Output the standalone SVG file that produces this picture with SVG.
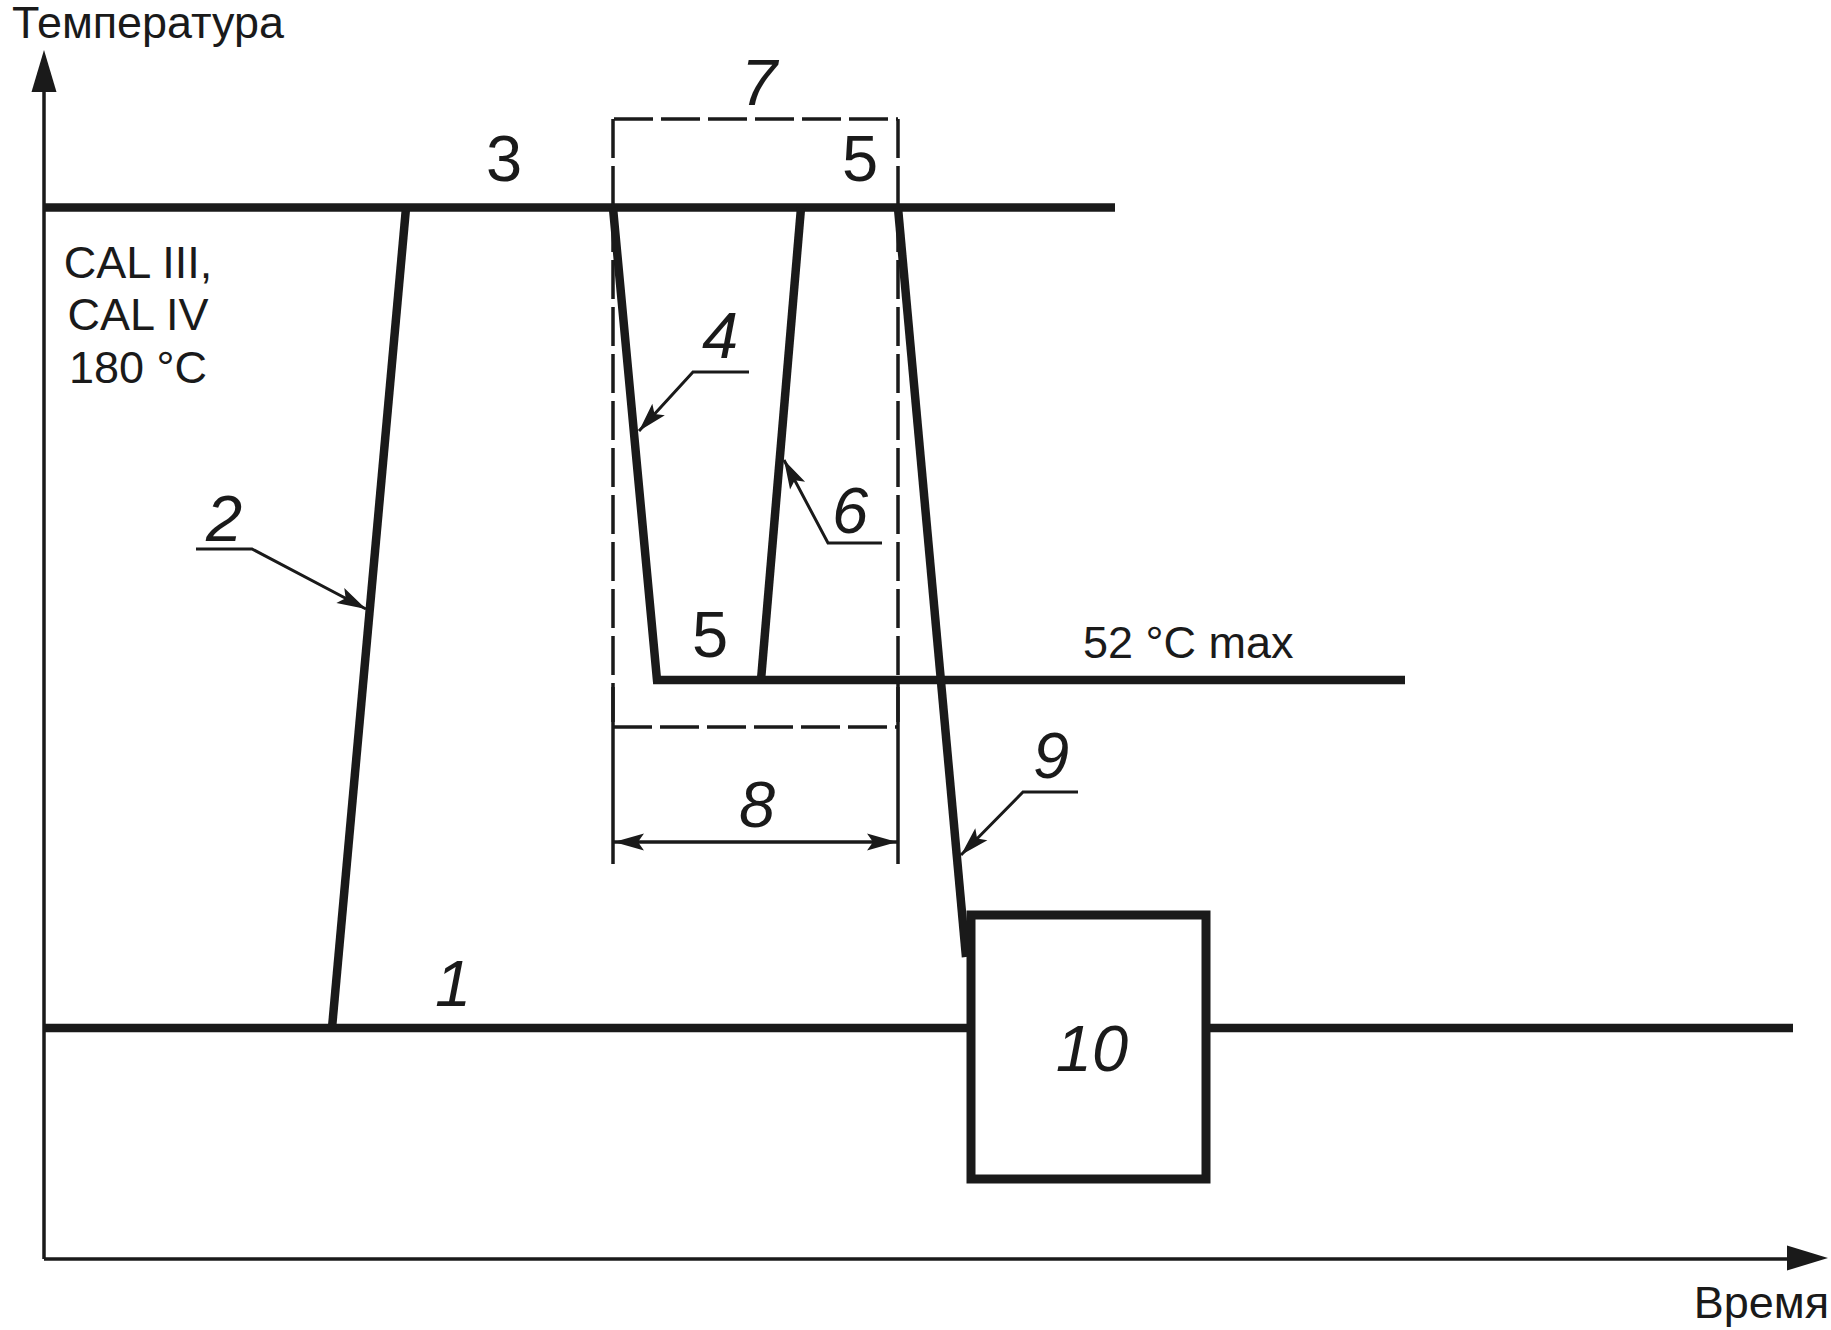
<svg xmlns="http://www.w3.org/2000/svg" width="1831" height="1330" viewBox="0 0 1831 1330">
<style>
  .thick { fill: none; stroke: #1a1a1a; stroke-width: 8.5; stroke-linecap: butt; stroke-linejoin: miter; }
  .axis { fill: none; stroke: #1a1a1a; stroke-width: 3.5; }
  .dash { fill: none; stroke: #1a1a1a; stroke-width: 3.5; stroke-dasharray: 39 8; }
  .thin { fill: none; stroke: #1a1a1a; stroke-width: 3.5; }
  .leader { fill: none; stroke: #1a1a1a; stroke-width: 3; marker-end: url(#lead); }
  .txt { font-family: "Liberation Sans", Arial, sans-serif; font-size: 45px; fill: #1a1a1a; }
  .num { font-family: "Liberation Sans", Arial, sans-serif; font-size: 65px; fill: #1a1a1a; text-anchor: middle; }
  .it { font-style: italic; }
</style>
<defs>
  <marker id="lead" markerUnits="userSpaceOnUse" markerWidth="34" markerHeight="22" refX="29" refY="0" viewBox="-2 -11 34 22" orient="auto" overflow="visible">
    <path d="M29,0 L0,-8.5 L6,0 L0,8.5 Z" fill="#1a1a1a"/>
  </marker>
  <marker id="dim" markerUnits="userSpaceOnUse" markerWidth="34" markerHeight="20" refX="30" refY="0" viewBox="-2 -10 34 20" orient="auto-start-reverse" overflow="visible">
    <path d="M30,0 L0,-8.5 L6,0 L0,8.5 Z" fill="#1a1a1a"/>
  </marker>
</defs>
<rect width="1831" height="1330" fill="#ffffff"/>

<g id="axes">
  <line class="axis" x1="44" y1="1259" x2="44" y2="88"/>
  <polygon points="44,50 31.5,92 56.5,92" fill="#1a1a1a"/>
  <line class="axis" x1="44" y1="1259" x2="1790" y2="1259"/>
  <polygon points="1828,1258 1787,1245.5 1787,1270.5" fill="#1a1a1a"/>
  <text class="txt" x="12" y="38" font-size="40" textLength="272" lengthAdjust="spacingAndGlyphs">Температура</text>
  <text class="txt" x="1829" y="1318" text-anchor="end">Время</text>
</g>

<g id="connectors">
  <!-- 1: room temperature line -->
  <line class="thick" x1="44" y1="1028" x2="971" y2="1028"/>
  <line class="thick" x1="1206" y1="1028" x2="1793" y2="1028"/>
  <!-- 2: heating -->
  <line class="thick" x1="332" y1="1028" x2="406" y2="208"/>
  <!-- 3: 180 °C hold -->
  <line class="thick" x1="44" y1="207.5" x2="1115" y2="207.5"/>
  <!-- 4 + 5: cooling to 52 °C and hold -->
  <polyline class="thick" points="613,208 657,680 1405,680"/>
  <!-- 6: reheating -->
  <line class="thick" x1="801" y1="208" x2="761" y2="680"/>
  <!-- 9: final cooling -->
  <line class="thick" x1="898" y1="208" x2="966" y2="957"/>
  <!-- 7: dashed cycle frame -->
  <line class="dash" x1="614" y1="119" x2="898" y2="119"/>
  <line class="dash" x1="613" y1="119" x2="613" y2="727"/>
  <line class="dash" x1="898" y1="119" x2="898" y2="727"/>
  <line class="dash" x1="613" y1="727" x2="898" y2="727"/>
  <!-- 8: dimension -->
  <line class="thin" x1="613" y1="687" x2="613" y2="864"/>
  <line class="thin" x1="898" y1="687" x2="898" y2="864"/>
  <line class="thin" x1="614" y1="842" x2="897" y2="842" marker-start="url(#dim)" marker-end="url(#dim)"/>
  <!-- leaders -->
  <polyline class="leader" points="196,549 252,549 366,609"/>
  <polyline class="leader" points="749,372 693,372 639,431"/>
  <polyline class="leader" points="882,543 828,543 784,460"/>
  <polyline class="leader" points="1078,792 1023,792 961,855"/>
</g>

<g id="node-cal">
  <text class="txt" x="138" y="278" text-anchor="middle" font-size="46">CAL III,</text>
  <text class="txt" x="138" y="330" text-anchor="middle" font-size="46">CAL IV</text>
  <text class="txt" x="138" y="383" text-anchor="middle" font-size="46">180 °C</text>
</g>

<g id="node-52">
  <text class="txt" x="1083" y="658" font-size="44">52 °C max</text>
</g>

<g id="node-10">
  <rect x="971" y="915" width="235" height="264" fill="none" stroke="#1a1a1a" stroke-width="9"/>
  <text class="num it" x="1092" y="1071">10</text>
</g>

<g id="labels">
  <text class="num it" x="453" y="1006">1</text>
  <text class="num it" x="224" y="541">2</text>
  <text class="num" x="504" y="181">3</text>
  <text class="num it" x="720" y="358">4</text>
  <text class="num" x="860" y="181">5</text>
  <text class="num" x="710" y="657">5</text>
  <text class="num it" x="850" y="533">6</text>
  <text class="num it" x="759" y="105">7</text>
  <text class="num it" x="757" y="827">8</text>
  <text class="num it" x="1051" y="778">9</text>
</g>
</svg>
